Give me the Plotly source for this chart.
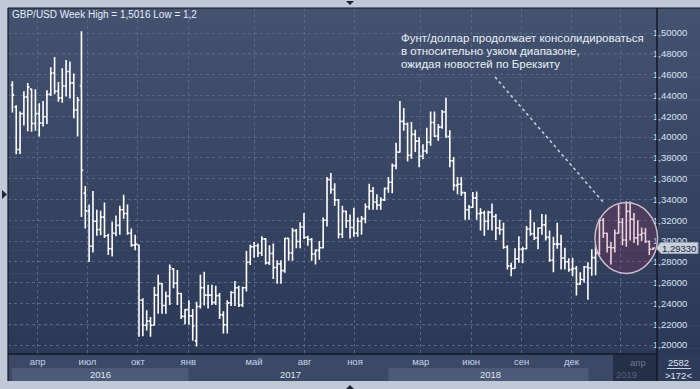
import plotly.graph_objects as go

# ---------------- data (weekly GBP/USD bars) ----------------
week = [
    "2016-02-15","2016-02-22","2016-02-29","2016-03-07","2016-03-14","2016-03-21","2016-03-28","2016-04-04",
    "2016-04-11","2016-04-18","2016-04-25","2016-05-02","2016-05-09","2016-05-16","2016-05-23","2016-05-30",
    "2016-06-06","2016-06-13","2016-06-20","2016-06-27","2016-07-04","2016-07-11","2016-07-18","2016-07-25",
    "2016-08-01","2016-08-08","2016-08-15","2016-08-22","2016-08-29","2016-09-05","2016-09-12","2016-09-19",
    "2016-09-26","2016-10-03","2016-10-10","2016-10-17","2016-10-24","2016-10-31","2016-11-07","2016-11-14",
    "2016-11-21","2016-11-28","2016-12-05","2016-12-12","2016-12-19","2016-12-26",
    "2017-01-02","2017-01-09","2017-01-16","2017-01-23","2017-01-30","2017-02-06","2017-02-13","2017-02-20",
    "2017-02-27","2017-03-06","2017-03-13","2017-03-20","2017-03-27","2017-04-03","2017-04-10","2017-04-17",
    "2017-04-24","2017-05-01","2017-05-08","2017-05-15","2017-05-22","2017-05-29","2017-06-05","2017-06-12",
    "2017-06-19","2017-06-26","2017-07-03","2017-07-10","2017-07-17","2017-07-24","2017-07-31","2017-08-07",
    "2017-08-14","2017-08-21","2017-08-28","2017-09-04","2017-09-11","2017-09-18","2017-09-25","2017-10-02",
    "2017-10-09","2017-10-16","2017-10-23","2017-10-30","2017-11-06","2017-11-13","2017-11-20","2017-11-27",
    "2017-12-04","2017-12-11","2017-12-18","2017-12-25",
    "2018-01-01","2018-01-08","2018-01-15","2018-01-22","2018-01-29","2018-02-05","2018-02-12","2018-02-19",
    "2018-02-26","2018-03-05","2018-03-12","2018-03-19","2018-03-26","2018-04-02","2018-04-09","2018-04-16",
    "2018-04-23","2018-04-30","2018-05-07","2018-05-14","2018-05-21","2018-05-28","2018-06-04","2018-06-11",
    "2018-06-18","2018-06-25","2018-07-02","2018-07-09","2018-07-16","2018-07-23","2018-07-30","2018-08-06",
    "2018-08-13","2018-08-20","2018-08-27","2018-09-03","2018-09-10","2018-09-17","2018-09-24","2018-10-01",
    "2018-10-08","2018-10-15","2018-10-22","2018-10-29","2018-11-05","2018-11-12","2018-11-19","2018-11-26",
    "2018-12-03","2018-12-10","2018-12-17","2018-12-24","2018-12-31",
    "2019-01-07","2019-01-14","2019-01-21","2019-01-28","2019-02-04","2019-02-11","2019-02-18","2019-02-25",
    "2019-03-04","2019-03-11","2019-03-18","2019-03-25","2019-04-01","2019-04-08","2019-04-15","2019-04-22",
    "2019-04-29",
]

open_ = [
    1.4500,1.4290,1.3880,1.4225,1.4385,1.4460,1.4130,1.4225,1.4135,1.4195,1.4410,1.4615,1.4440,1.4375,1.4490,1.4630,
    1.4520,1.4260,1.4490,1.3460,1.3290,1.2950,1.3190,1.3110,1.3230,1.3050,1.2925,1.3075,1.3150,1.3300,1.3265,1.3075,
    1.2960,1.2960,1.2430,1.2190,1.2230,1.2190,1.2480,1.2590,1.2380,1.2470,1.2730,1.2595,1.2495,1.2275,
    1.2340,1.2280,1.2040,1.2370,1.2550,1.2480,1.2480,1.2410,1.2475,1.2290,1.2195,1.2405,1.2505,1.2550,1.2385,1.2550,
    1.2795,1.2945,1.2955,1.2885,1.3020,1.2790,1.2880,1.2745,1.2780,1.2715,1.3025,1.2885,1.3100,1.2995,1.3135,1.3035,
    1.3015,1.2875,1.2910,1.2935,1.3200,1.3590,1.3495,1.3395,1.3065,1.3285,1.3195,1.3130,1.3075,1.3190,1.3215,1.3330,
    1.3480,1.3375,1.3345,1.3395,
    1.3505,1.3565,1.3725,1.3855,1.4150,1.4125,1.3825,1.4025,1.3960,1.3815,1.3865,1.3950,1.4140,1.4010,1.4095,1.4240,
    1.4005,1.3770,1.3535,1.3545,1.3465,1.3300,1.3325,1.3415,1.3265,1.3270,1.3190,1.3275,1.3235,1.3125,1.3110,1.2940,
    1.2760,1.2735,1.2830,1.2920,1.2925,1.3115,1.3070,1.3030,1.3125,1.3155,1.3035,1.2815,1.2970,1.2970,1.2835,1.2800,
    1.2725,1.2735,1.2585,1.2630,1.2750,
    1.2740,1.2840,1.2885,1.3200,1.3075,1.2940,1.2935,1.3075,1.3180,1.3010,1.3285,1.3210,1.3030,1.3060,1.3075,1.2995,
    1.2920,
]

high = [
    1.4535,1.4305,1.4245,1.4440,1.4520,1.4465,1.4460,1.4325,1.4345,1.4450,1.4670,1.4770,1.4530,1.4660,1.4740,1.4725,
    1.4610,1.4385,1.5016,1.3530,1.3350,1.3480,1.3300,1.3290,1.3370,1.3070,1.3185,1.3245,1.3340,1.3445,1.3350,1.3120,
    1.3060,1.2965,1.2450,1.2335,1.2270,1.2560,1.2675,1.2595,1.2515,1.2775,1.2740,1.2720,1.2500,1.2345,
    1.2430,1.2345,1.2415,1.2675,1.2705,1.2580,1.2580,1.2570,1.2500,1.2325,1.2430,1.2520,1.2615,1.2570,1.2560,1.2905,
    1.2965,1.2990,1.2975,1.3045,1.3030,1.2960,1.2975,1.2815,1.2815,1.3030,1.3030,1.3125,1.3115,1.3180,1.3270,1.3050,
    1.3030,1.2920,1.3000,1.3225,1.3615,1.3655,1.3555,1.3400,1.3340,1.3290,1.3255,1.3320,1.3225,1.3240,1.3360,1.3550,
    1.3520,1.3450,1.3420,1.3515,
    1.3615,1.3745,1.3945,1.4345,1.4280,1.4140,1.4145,1.4070,1.4000,1.3930,1.4090,1.4245,1.4245,1.4125,1.4260,1.4377,
    1.4065,1.3805,1.3615,1.3615,1.3470,1.3345,1.3470,1.3475,1.3315,1.3290,1.3290,1.3360,1.3260,1.3205,1.3175,1.2960,
    1.2790,1.2930,1.3045,1.2945,1.3145,1.3300,1.3180,1.3130,1.3260,1.3255,1.3100,1.3040,1.3175,1.3060,1.2935,1.2835,
    1.2840,1.2760,1.2700,1.2760,1.2795,
    1.2920,1.2960,1.3215,1.3220,1.3080,1.2990,1.3110,1.3350,1.3220,1.3380,1.3380,1.3270,1.3200,1.3130,1.3125,1.3005,
    1.2940,
]

low = [
    1.4235,1.3835,1.3836,1.4110,1.4055,1.4050,1.4060,1.4005,1.4100,1.4125,1.4395,1.4410,1.4340,1.4330,1.4390,1.4370,
    1.4180,1.4005,1.3230,1.3120,1.2798,1.2890,1.3050,1.3055,1.3030,1.2865,1.2850,1.3045,1.3060,1.3215,1.3060,1.2945,
    1.2910,1.2080,1.2085,1.2140,1.2080,1.2190,1.2300,1.2300,1.2300,1.2385,1.2545,1.2385,1.2250,1.2200,
    1.2195,1.2040,1.1986,1.2350,1.2380,1.2350,1.2385,1.2385,1.2250,1.2110,1.2110,1.2375,1.2375,1.2365,1.2365,1.2515,
    1.2770,1.2840,1.2845,1.2855,1.2775,1.2770,1.2635,1.2590,1.2590,1.2695,1.2810,1.2810,1.2930,1.2930,1.3020,1.2955,
    1.2810,1.2775,1.2820,1.2930,1.3140,1.3455,1.3340,1.3025,1.3030,1.3125,1.3025,1.3040,1.3040,1.3060,1.3170,1.3300,
    1.3300,1.3300,1.3300,1.3385,
    1.3465,1.3460,1.3690,1.3850,1.4060,1.3765,1.3790,1.3855,1.3710,1.3785,1.3840,1.3915,1.4000,1.3965,1.4080,1.3990,
    1.3710,1.3485,1.3450,1.3435,1.3205,1.3205,1.3320,1.3205,1.3100,1.3050,1.3105,1.3100,1.3010,1.3060,1.2925,1.2725,
    1.2660,1.2735,1.2790,1.2785,1.2920,1.3050,1.3010,1.2920,1.3060,1.3005,1.2800,1.2700,1.2925,1.2725,1.2725,1.2705,
    1.2660,1.2475,1.2580,1.2600,1.2435,
    1.2665,1.2670,1.2865,1.3030,1.2890,1.2775,1.2890,1.3070,1.2960,1.2945,1.3005,1.2980,1.2960,1.3000,1.2980,1.2865,
    1.2915,
]

close = [
    1.4405,1.3880,1.4225,1.4385,1.4480,1.4130,1.4225,1.4135,1.4195,1.4410,1.4615,1.4440,1.4375,1.4490,1.4630,1.4520,
    1.4260,1.4355,1.3680,1.3290,1.2950,1.3190,1.3110,1.3230,1.3050,1.2925,1.3075,1.3150,1.3300,1.3265,1.3075,1.2960,
    1.2970,1.2430,1.2190,1.2230,1.2190,1.2480,1.2590,1.2380,1.2470,1.2745,1.2595,1.2495,1.2275,1.2340,
    1.2280,1.2180,1.2370,1.2550,1.2480,1.2480,1.2410,1.2475,1.2290,1.2195,1.2405,1.2505,1.2550,1.2385,1.2550,1.2795,
    1.2945,1.2955,1.2885,1.3020,1.2790,1.2880,1.2745,1.2780,1.2715,1.3025,1.2885,1.3100,1.2995,1.3135,1.3035,1.3015,
    1.2875,1.2910,1.2935,1.3200,1.3590,1.3495,1.3395,1.3065,1.3285,1.3195,1.3130,1.3075,1.3190,1.3215,1.3330,1.3480,
    1.3375,1.3345,1.3395,1.3505,
    1.3565,1.3725,1.3855,1.4150,1.4125,1.3825,1.4025,1.3960,1.3815,1.3865,1.3950,1.4140,1.4010,1.4095,1.4240,1.4005,
    1.3770,1.3535,1.3545,1.3465,1.3300,1.3325,1.3415,1.3265,1.3270,1.3190,1.3275,1.3235,1.3125,1.3110,1.2940,1.2760,
    1.2735,1.2830,1.2920,1.2925,1.3115,1.3070,1.3030,1.3125,1.3155,1.3035,1.2815,1.2970,1.2970,1.2835,1.2800,1.2725,
    1.2735,1.2585,1.2630,1.2750,1.2740,
    1.2840,1.2885,1.3200,1.3075,1.2940,1.2935,1.3075,1.3180,1.3010,1.3285,1.3210,1.3030,1.3060,1.3075,1.2995,1.2920,
    1.2933,
]

y_ticks = [1.20, 1.22, 1.24, 1.26, 1.28, 1.30, 1.32, 1.34, 1.36, 1.38, 1.40, 1.42, 1.44, 1.46, 1.48, 1.50]
y_tick_labels = ["1,20000", "1,22000", "1,24000", "1,26000", "1,28000", "1,30000", "1,32000", "1,34000",
                 "1,36000", "1,38000", "1,40000", "1,42000", "1,44000", "1,46000", "1,48000", "1,50000"]
month_ticks = ["2016-04-01", "2016-07-01", "2016-10-01", "2017-01-01", "2017-05-01", "2017-08-01",
               "2017-11-01", "2018-03-01", "2018-06-01", "2018-09-01", "2018-12-01", "2019-03-01"]
month_labels = ["апр", "июл", "окт", "янв", "май", "авг", "ноя", "мар", "июн", "сен", "дек", ""]
year_labels = ["2016", "2017", "2018", "2019"]
current_month_label = "апр"
title_text = "GBP/USD Week High = 1,5016 Low = 1,2"
note_lines = ["Фунт/доллар продолжает консолидироваться",
              "в относительно узком диапазоне,",
              "ожидая новостей по Брекзиту"]
corner_top = "2582"
corner_bottom = ">172<"
last_price_label = f"{close[-1]:.5f}".replace(".", ",")

# ---------------- geometry helpers (pixel -> paper) ----------------
W, H = 700, 389
PL, PR, PT, PB = 8, 657, 8, 354


def fx(p):
    return (p - PL) / (PR - PL)


def fy(p):
    return (PB - p) / (PB - PT)


FONT = "Liberation Sans, Arial, sans-serif"

fig = go.Figure()
fig.add_trace(go.Ohlc(
    x=week, open=open_, high=high, low=low, close=close,
    increasing=dict(line=dict(color="#ffffff", width=1.6)),
    decreasing=dict(line=dict(color="#ffffff", width=1.6)),
    tickwidth=0.45, hoverinfo="skip", showlegend=False,
))

shapes = []
# gradient background of the chart and price panel
N = 60
top_c = (68, 82, 111)
bot_c = (43, 56, 86)
for i in range(N):
    t = i / (N - 1)
    c = tuple(round(top_c[k] + (bot_c[k] - top_c[k]) * t) for k in range(3))
    y0 = PT + i * (PB - PT) / N
    y1 = PT + (i + 1) * (PB - PT) / N + 0.6
    shapes.append(dict(type="rect", xref="paper", yref="paper", x0=fx(PL), x1=fx(W), y0=fy(y1), y1=fy(y0),
                       fillcolor="rgb(%d,%d,%d)" % c, line=dict(width=0), layer="below"))
# date axis strip
shapes.append(dict(type="rect", xref="paper", yref="paper", x0=fx(PL), x1=fx(PR), y0=fy(381), y1=fy(PB),
                   fillcolor="#3c4966", line=dict(width=0), layer="below"))
# price panel bottom
shapes.append(dict(type="rect", xref="paper", yref="paper", x0=fx(PR), x1=fx(W), y0=fy(381), y1=fy(PB),
                   fillcolor="#2e3a57", line=dict(width=0), layer="below"))
# year bands
for a, b in [(12, 188.5), (388.5, 588.5)]:
    shapes.append(dict(type="rect", xref="paper", yref="paper", x0=fx(a), x1=fx(b), y0=fy(381), y1=fy(368),
                       fillcolor="#4c5a77", line=dict(width=0), layer="below"))
# current-period dark box
shapes.append(dict(type="rect", xref="paper", yref="paper", x0=fx(613), x1=fx(PR), y0=fy(381), y1=fy(355),
                   fillcolor="#252f48", line=dict(width=0), layer="above"))
# frame lines
dark = "#121826"
shapes += [
    dict(type="line", xref="paper", yref="paper", x0=fx(PR), x1=fx(PR), y0=fy(381), y1=fy(PT),
         line=dict(color=dark, width=1.5), layer="above"),
    dict(type="line", xref="paper", yref="paper", x0=fx(PL), x1=fx(PR), y0=fy(PB), y1=fy(PB),
         line=dict(color=dark, width=1.5), layer="above"),
    dict(type="line", xref="paper", yref="paper", x0=fx(PL), x1=fx(PL), y0=fy(381), y1=fy(PT),
         line=dict(color=dark, width=1.2), layer="above"),
    dict(type="line", xref="paper", yref="paper", x0=fx(PL), x1=fx(W), y0=fy(PT), y1=fy(PT),
         line=dict(color=dark, width=1.2), layer="above"),
]
# highlight ellipse
shapes.append(dict(type="circle", xref="paper", yref="paper", x0=fx(595), x1=fx(657.5), y0=fy(273.5), y1=fy(202.5),
                   fillcolor="rgba(165,38,85,0.21)", line=dict(color="#cdbccb", width=1.5), layer="above"))
# dotted pointer line
shapes.append(dict(type="line", xref="paper", yref="paper", x0=fx(495), y0=fy(77), x1=fx(603), y1=fy(202),
                   line=dict(color="#c9d2e0", width=1.5, dash="dot"), layer="above"))
# last-price tag
tag_y = 33 + (1.5 - close[-1]) * 1040
path = "M %f,%f L %f,%f L %f,%f L %f,%f L %f,%f Z" % (
    fx(656), fy(tag_y), fx(661), fy(tag_y - 5.5), fx(698), fy(tag_y - 5.5),
    fx(698), fy(tag_y + 5.5), fx(661), fy(tag_y + 5.5))
shapes.append(dict(type="path", xref="paper", yref="paper", path=path, fillcolor="#c9d0da",
                   line=dict(color="#9aa4b4", width=1), layer="above"))
# underline of the counter
shapes.append(dict(type="line", xref="paper", yref="paper", x0=fx(667), x1=fx(691), y0=fy(368.5), y1=fy(368.5),
                   line=dict(color="#c8d4e8", width=1), layer="above"))


def tri(points, color):
    p = "M " + " L ".join("%f,%f" % (fx(a), fy(b)) for a, b in points) + " Z"
    return dict(type="path", xref="paper", yref="paper", path=p, fillcolor=color,
                line=dict(width=0), layer="above")


shapes.append(tri([(2, 190), (7, 194.5), (2, 199)], "#1e2536"))
shapes.append(tri([(346, 1), (354, 1), (350, 5)], "#1e2536"))
shapes.append(tri([(346, 389), (354, 389), (350, 385)], "#1e2536"))

annotations = []


def text(x, y, s, size=9.5, color="#e6edf7", xanchor="center"):
    annotations.append(dict(xref="paper", yref="paper", x=fx(x), y=fy(y), text=s, showarrow=False,
                            xanchor=xanchor, yanchor="middle",
                            font=dict(family=FONT, size=size, color=color)))


text(10, 14, title_text, size=10, xanchor="left")
for i, line in enumerate(note_lines):
    text(399, 38.5 + i * 12.6, line, size=11.5, color="#e8eef8", xanchor="left")
year_pos = [100.5, 290, 490]
for xp, s in zip(year_pos, year_labels[:3]):
    text(xp, 374.5, s, size=9.5, color="#dde5f2")
text(613.5, 374.5, year_labels[3], size=9.5, color="#56647e", xanchor="left")
text(638, 363, current_month_label, size=9.5, color="#68778f")
text(679, 362, corner_top, size=9.5, color="#dde6f4")
text(679, 375, corner_bottom, size=9.5, color="#dde6f4")
text(679, tag_y + 0.5, last_price_label, size=9.5, color="#1c2942")

fig.update_layout(
    width=W, height=H,
    margin=dict(l=PL, r=W - PR, t=PT, b=H - PB, pad=0),
    paper_bgcolor="#bfc9d7",
    plot_bgcolor="rgba(0,0,0,0)",
    showlegend=False,
    hovermode=False,
    shapes=shapes,
    annotations=annotations,
    xaxis=dict(
        type="date", range=["2016-02-07", "2019-05-06"],
        tickvals=month_ticks, ticktext=month_labels,
        showgrid=True, gridcolor="#586884", griddash="3px,3px", gridwidth=1,
        ticks="", showline=False, zeroline=False,
        tickfont=dict(family=FONT, size=9.5, color="#c3d2ea"),
        rangeslider=dict(visible=False), fixedrange=True,
    ),
    yaxis=dict(
        side="right", range=[1.19135, 1.52404],
        tickvals=y_ticks, ticktext=y_tick_labels,
        showgrid=True, gridcolor="#586884", griddash="3px,3px", gridwidth=1,
        ticks="", showline=False, zeroline=False, ticklabelstandoff=-5,
        tickfont=dict(family=FONT, size=9.5, color="#d6e2f4"),
        fixedrange=True,
    ),
)

fig.write_html(
    "out.html",
    config={"displayModeBar": False, "staticPlot": True},
    post_script="document.body.style.margin='0';document.body.style.overflow='hidden';",
)
